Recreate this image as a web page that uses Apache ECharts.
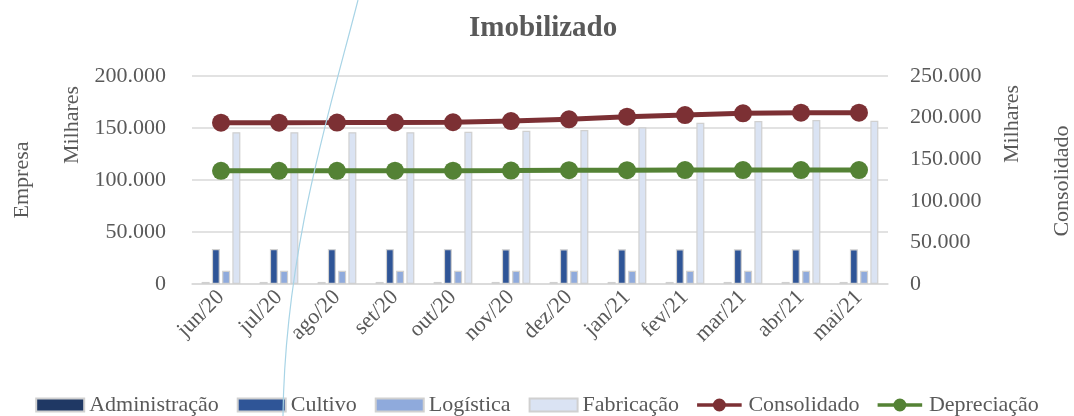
<!DOCTYPE html>
<html>
<head>
<meta charset="utf-8">
<title>Imobilizado</title>
<script src="https://cdn.jsdelivr.net/npm/echarts@6/dist/echarts.min.js"></script>
<style>
  html, body { margin: 0; padding: 0; background: #ffffff; }
  #chart { width: 1074px; height: 416px; }
</style>
</head>
<body>
<div id="chart"></div>
<script>
  const categories = ['jun/20', 'jul/20', 'ago/20', 'set/20', 'out/20', 'nov/20', 'dez/20', 'jan/21', 'fev/21', 'mar/21', 'abr/21', 'mai/21']
  const administracao = [2000, 2000, 2000, 2000, 2000, 2000, 2000, 2000, 2000, 2000, 2000, 2000]
  const cultivo = [33600, 33600, 33500, 33500, 33500, 33400, 33400, 33400, 33300, 33300, 33300, 33300]
  const logistica = [12800, 12800, 12800, 12800, 12800, 12800, 12800, 12800, 12800, 12800, 12800, 12800]
  const fabricacao = [145900, 145900, 145900, 145900, 146400, 147400, 148100, 150700, 155100, 156700, 157700, 157000]
  const consolidado = [193900, 193900, 194000, 194200, 194400, 195900, 198000, 201100, 203100, 205200, 205900, 205900]
  const depreciacao = [136000, 136100, 136100, 136200, 136200, 136300, 136800, 136800, 136900, 136900, 136900, 136900]
  const empresaTicks = [0, 50000, 100000, 150000, 200000]
  const consolidadoTicks = [0, 50000, 100000, 150000, 200000, 250000]

  const font = 'Liberation Serif'
  const grey = '#595959'
  const gridColor = '#d9d9d9'
  // legend icon for the line series: thick line with a dot in the middle
  const lineDotIcon = 'path://M0,5H48V9H0Z M17,7A7,7 0 1,1 31,7A7,7 0 1,1 17,7Z'

  function fmt (v) {
    return String(v).replace(/\B(?=(\d{3})+(?!\d))/g, '.')
  }

  function barSeries (name, data, color) {
    return {
      name: name,
      type: 'bar',
      data: data,
      barWidth: 8,
      barGap: '28%',
      itemStyle: { color: color, borderColor: '#d0d0d0', borderWidth: 1.2 }
    }
  }

  function lineSeries (name, data, color) {
    return {
      name: name,
      type: 'line',
      yAxisIndex: 1,
      data: data,
      symbol: 'circle',
      symbolSize: 18,
      lineStyle: { color: color, width: 5 },
      itemStyle: { color: color }
    }
  }

  function sideText (text, x, y) {
    return {
      type: 'text',
      x: x,
      y: y,
      rotation: Math.PI / 2,
      style: { text: text, fill: grey, font: '22px "' + font + '"', align: 'center', verticalAlign: 'middle' }
    }
  }

  const chart = echarts.init(document.getElementById('chart'))
  chart.setOption({
    animation: false,
    textStyle: { fontFamily: font },
    title: {
      text: 'Imobilizado',
      left: 464,
      top: 9,
      textStyle: { fontFamily: font, fontSize: 29, fontWeight: 'bold', color: grey }
    },
    legend: {
      top: 389,
      left: 'center',
      itemWidth: 48,
      itemHeight: 13,
      itemGap: 18,
      textStyle: { fontFamily: font, fontSize: 22, color: grey },
      data: [
        { name: 'Administração', icon: 'rect' },
        { name: 'Cultivo', icon: 'rect' },
        { name: 'Logística', icon: 'rect' },
        { name: 'Fabricação', icon: 'rect' },
        { name: 'Consolidado', icon: lineDotIcon },
        { name: 'Depreciação', icon: lineDotIcon }
      ]
    },
    grid: { left: 192, right: 186, top: 76, bottom: 132 },
    xAxis: {
      type: 'category',
      data: categories,
      axisLine: { lineStyle: { color: gridColor, width: 1.5 } },
      axisTick: { length: 6, lineStyle: { color: gridColor, width: 1.5 } },
      axisLabel: { rotate: 45, margin: 10, fontSize: 22, color: grey, fontFamily: font }
    },
    yAxis: [
      {
        type: 'value',
        min: empresaTicks[0],
        max: empresaTicks[empresaTicks.length - 1],
        interval: empresaTicks[1] - empresaTicks[0],
        axisLine: { show: false },
        axisTick: { show: false },
        splitLine: { lineStyle: { color: gridColor, width: 1.5 } },
        axisLabel: { margin: 26, fontSize: 22, color: grey, fontFamily: font, formatter: fmt }
      },
      {
        type: 'value',
        min: consolidadoTicks[0],
        max: consolidadoTicks[consolidadoTicks.length - 1],
        interval: consolidadoTicks[1] - consolidadoTicks[0],
        axisLine: { show: false },
        axisTick: { show: false },
        splitLine: { show: false },
        axisLabel: { margin: 22, fontSize: 22, color: grey, fontFamily: font, formatter: fmt }
      }
    ],
    graphic: [
      sideText('Empresa', 22, 180),
      sideText('Milhares', 72, 125),
      sideText('Milhares', 1012, 124),
      sideText('Consolidado', 1062, 181),
      {
        type: 'bezierCurve',
        z: 100,
        shape: { x1: 358, y1: 0, cpx1: 330, cpy1: 110, cpx2: 285, cpy2: 250, x2: 283, y2: 416 },
        style: { stroke: '#a8d4e6', lineWidth: 1.2, fill: null }
      }
    ],
    series: [
      barSeries('Administração', administracao, '#1f3864'),
      barSeries('Cultivo', cultivo, '#2f5597'),
      barSeries('Logística', logistica, '#8faadc'),
      barSeries('Fabricação', fabricacao, '#dae3f3'),
      lineSeries('Consolidado', consolidado, '#7c3034'),
      lineSeries('Depreciação', depreciacao, '#548235')
    ]
  })
</script>
</body>
</html>
